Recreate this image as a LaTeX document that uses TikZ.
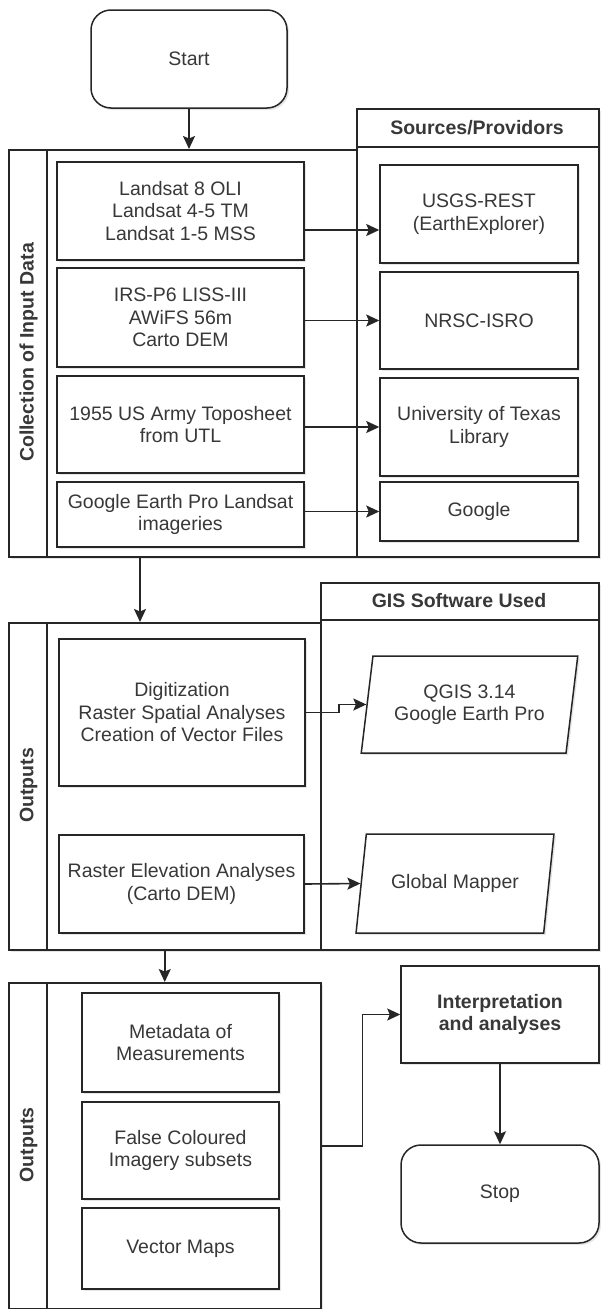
\documentclass[tikz,border=0pt]{standalone}
\usepackage{fontspec}
\setmainfont{Liberation Sans}
\usetikzlibrary{arrows.meta,shadows,shapes.geometric}

\definecolor{linegray}{HTML}{262626}
\definecolor{txtgray}{HTML}{383838}

\begin{document}
\begin{tikzpicture}[x=1pt, y=-1pt,
    font=\fontsize{19.5}{22.5}\selectfont,
    box/.style={draw=linegray, fill=white, line width=1.5pt, text=txtgray, align=center, inner sep=2pt,
        drop shadow={shadow xshift=2pt, shadow yshift=-2pt, opacity=0.2}},
    lane/.style={draw=linegray, fill=white, line width=1.5pt,
        drop shadow={shadow xshift=2pt, shadow yshift=-2pt, opacity=0.2}},
    term/.style={box, rounded corners=20pt},
    para/.style={box, trapezium, trapezium stretches=true},
    head/.style={text=txtgray, font=\fontsize{19.5}{22.5}\selectfont\bfseries, align=center},
    sep/.style={draw=linegray, line width=1.5pt},
    arrow/.style={draw=linegray, line width=1.6pt, -{Stealth[length=13pt, width=12pt, inset=2.5pt]}}]
\useasboundingbox (0,0) rectangle (600,1309);

% Start
\node[term, minimum width=196pt, minimum height=98pt] (start) at (189,59) {Start};

% Collection of input data and the sources lane
\node[lane, anchor=north west, minimum width=348pt, minimum height=407pt] (collect) at (8,149) {};
\node[lane, anchor=north west, minimum width=242pt, minimum height=448pt] (sources) at (356,108) {};
\draw[sep] ([xshift=39pt]collect.north west) -- ([xshift=39pt]collect.south west);
\draw[sep, line width=2.5pt] ([yshift=-39pt]sources.north west) -- ([yshift=-39pt]sources.north east);
\node[head, rotate=90] (collectlbl) at (28.5,352.5) {Collection of Input Data};
\node[head] (sourceslbl) at (477,127.5) {Sources/Providors};

\node[box, minimum width=247pt, minimum height=98pt] (landsat) at (180.5,211) {Landsat 8 OLI\\Landsat 4-5 TM\\Landsat 1-5 MSS};
\node[box, minimum width=247pt, minimum height=99pt] (irs) at (180.5,317.5) {IRS-P6 LISS-III\\AWiFS 56m\\Carto DEM};
\node[box, minimum width=247pt, minimum height=97pt] (topo) at (180.5,424.5) {1955 US Army Toposheet\\from UTL};
\node[box, minimum width=247pt, minimum height=65pt] (gep) at (180.5,514.5) {Google Earth Pro Landsat\\imageries};

\node[box, minimum width=198pt, minimum height=98pt] (usgs) at (479,214) {USGS-REST\\(EarthExplorer)};
\node[box, minimum width=198pt, minimum height=97pt] (nrsc) at (479,320.5) {NRSC-ISRO};
\node[box, minimum width=198pt, minimum height=98pt] (utl) at (479,427) {University of Texas\\Library};
\node[box, minimum width=198pt, minimum height=59pt] (google) at (479,511.5) {Google};

% Data to providers
\coordinate (usgsin) at ([yshift=-16pt]usgs.west);
\draw[arrow] (landsat.east |- usgsin) -- (usgsin);
\draw[arrow] (irs.east |- nrsc.west) -- (nrsc.west);
\draw[arrow] (topo.east |- utl.west) -- (utl.west);
\draw[arrow] (gep.east |- google.west) -- (google.west);

% Outputs and the GIS software lane
\node[lane, anchor=north west, minimum width=312pt, minimum height=327pt] (outs) at (8,622) {};
\node[lane, anchor=north west, minimum width=278pt, minimum height=367pt] (gis) at (320,582) {};
\draw[sep] ([xshift=39pt]outs.north west) -- ([xshift=39pt]outs.south west);
\draw[sep, line width=2.5pt] ([yshift=-38pt]gis.north west) -- ([yshift=-38pt]gis.north east);
\node[head, rotate=90] (outslbl) at (28.5,785.5) {Outputs};
\node[head] (gislbl) at (459,601) {GIS Software Used};

\node[box, minimum width=246pt, minimum height=147pt] (digit) at (182,712.5) {Digitization\\Raster Spatial Analyses\\Creation of Vector Files};
\node[box, minimum width=245pt, minimum height=98pt] (elev) at (181.5,884) {Raster Elevation Analyses\\(Carto DEM)};

\node[para, trapezium left angle=78, trapezium right angle=102, minimum width=217pt, minimum height=97pt] (qgis) at (469.5,704.5) {QGIS 3.14\\Google Earth Pro};
\node[para, trapezium left angle=71, trapezium right angle=109, minimum width=198pt, minimum height=99pt] (gmap) at (455,883.5) {Global Mapper};

\draw[arrow] (digit.east) -- ++(33pt,0) |- (qgis.left side);
\draw[arrow] (elev.east) -- (gmap.left side);

% Products
\node[lane, anchor=north west, minimum width=312pt, minimum height=326pt] (prods) at (8,982) {};
\draw[sep] ([xshift=39pt]prods.north west) -- ([xshift=39pt]prods.south west);
\node[head, rotate=90] (prodslbl) at (28.5,1145) {Outputs};

\node[box, minimum width=197pt, minimum height=99pt] (meta) at (180.5,1042.5) {Metadata of\\Measurements};
\node[box, minimum width=197pt, minimum height=97pt] (fcc) at (180.5,1150.5) {False Coloured\\Imagery subsets};
\node[box, minimum width=197pt, minimum height=81pt] (vmaps) at (180.5,1248.5) {Vector Maps};

\node[box, font=\fontsize{19.5}{22.5}\selectfont\bfseries, minimum width=198pt, minimum height=97pt] (interp) at (500,1014.5) {Interpretation\\and analyses};
\node[term, minimum width=198pt, minimum height=98pt] (stop) at (500,1194) {Stop};

% Flow between the lanes
\draw[arrow] (start.south) -- (start.south |- collect.north);
\coordinate (drop1) at ([xshift=132pt]collect.south west);
\draw[arrow] (drop1) -- (drop1 |- outs.north);
\draw[arrow] (outs.south) -- (outs.south |- prods.north);
\draw[arrow] (prods.east) -- ++(41pt,0) |- (interp.west);
\draw[arrow] (interp) -- (stop);
\end{tikzpicture}
\end{document}
